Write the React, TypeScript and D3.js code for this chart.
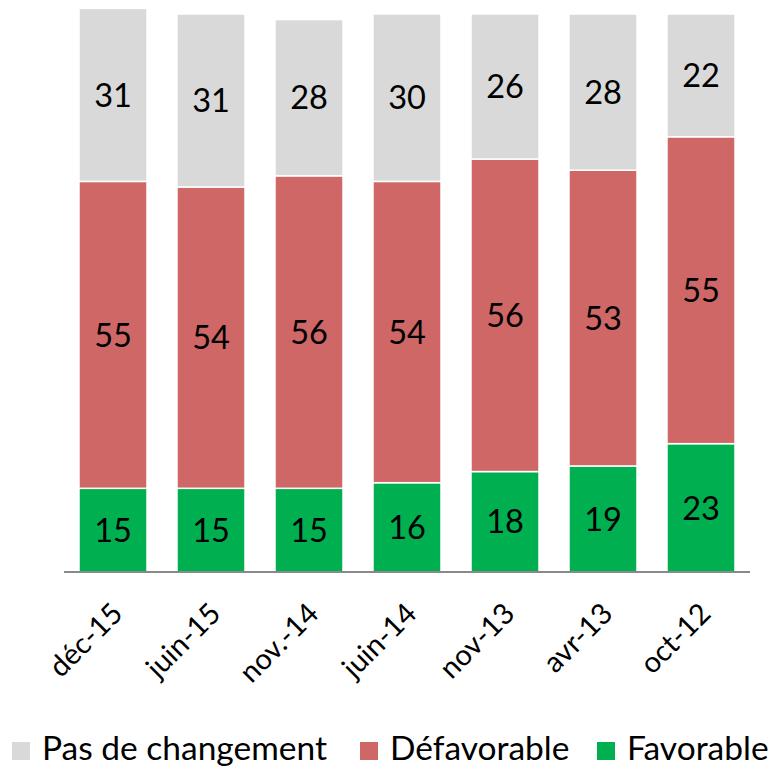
import React from 'react';
import * as d3 from 'd3';

const categories = ['déc-15', 'juin-15', 'nov.-14', 'juin-14', 'nov-13', 'avr-13', 'oct-12'];
const favorable = [15, 15, 15, 16, 18, 19, 23];
const defavorable = [55, 54, 56, 54, 56, 53, 55];
const pasDeChangement = [31, 31, 28, 30, 26, 28, 22];

const seriesNames = ['Favorable', 'Défavorable', 'Pas de changement'];
const seriesColors = ['#00b050', '#cf6767', '#d9d9d9'];
const legendOrder = [2, 1, 0];

const W = 778;
const H = 768;
const font = 'Lato, "Open Sans", sans-serif';

export default function App() {
  const x = d3.scaleBand<string>().domain(categories).range([64, 750]).paddingInner(0.306).paddingOuter(0.153);
  const y = d3.scaleLinear().domain([0, 100]).range([572, 14]);

  const rows = categories.map((c, i) => ({
    cat: c,
    Favorable: favorable[i],
    'Défavorable': defavorable[i],
    'Pas de changement': pasDeChangement[i],
  }));
  const stacked = d3.stack<any>().keys(seriesNames)(rows);

  // legend positions (start of square)
  const legendX = [12, 360, 597];

  return (
    <svg width={W} height={H} style={{ position: 'absolute', left: 0, top: 0 }}>
      <rect width={W} height={H} fill="#fff" />
      {stacked.map((layer, si) => (
        <g key={si}>
          {layer.map((d, i) => (
            <g key={i}>
              <rect
                x={x(categories[i])}
                y={y(d[1])}
                width={x.bandwidth()}
                height={y(d[0]) - y(d[1])}
                fill={seriesColors[si]}
                stroke="#fff"
                strokeWidth={1.5}
              />
              <text
                x={(x(categories[i]) as number) + x.bandwidth() / 2}
                y={(y(d[0]) + y(d[1])) / 2}
                dy="0.36em"
                textAnchor="middle"
                fontFamily={font}
                fontSize={32.5}
                fill="#000"
              >
                {d[1] - d[0]}
              </text>
            </g>
          ))}
        </g>
      ))}
      <line x1={64} x2={750} y1={572} y2={572} stroke="#898989" strokeWidth={2} />
      {categories.map((c) => {
        const cx = (x(c) as number) + x.bandwidth() / 2 - 3;
        return (
          <text
            key={c}
            transform={`translate(${cx},${601}) rotate(-45)`}
            textAnchor="end"
            dy="0.7em"
            fontFamily={font}
            fontSize={29}
            fill="#000"
          >
            {c}
          </text>
        );
      })}
      {legendOrder.map((si, k) => (
        <g key={si} transform={`translate(${legendX[k]},742)`}>
          <rect width={18} height={18} fill={seriesColors[si]} />
          <text x={30} y={18} fontFamily={font} fontSize={33.5} fill="#000">
            {seriesNames[si]}
          </text>
        </g>
      ))}
    </svg>
  );
}
